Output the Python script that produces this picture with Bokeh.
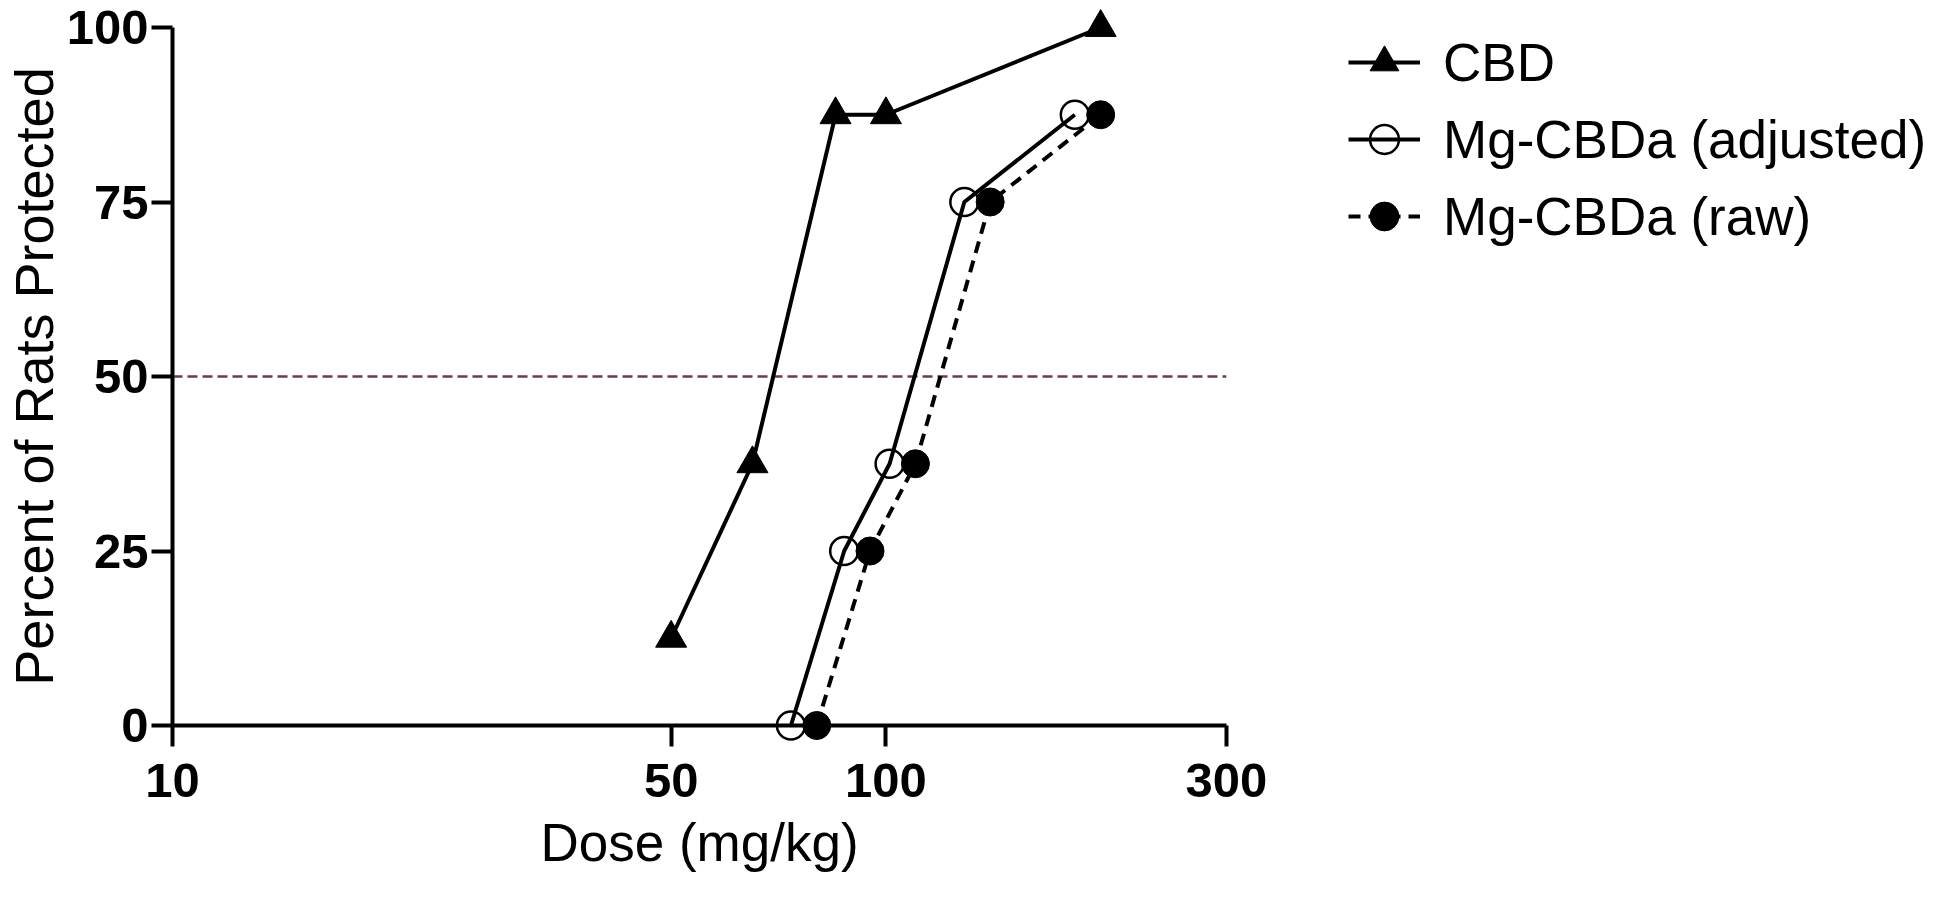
from bokeh.plotting import figure
from bokeh.models import FixedTicker, PrintfTickFormatter, Legend, LegendItem, Title
from bokeh.embed import file_html
from bokeh.resources import INLINE

# ---- data ----
cbd_dose = [50, 65, 85, 100, 200]
cbd_pct = [12.5, 37.5, 87.5, 87.5, 100]

adj_dose = [73.6, 87.4, 101.2, 128.8, 184]
adj_pct = [0, 25, 37.5, 75, 87.5]

raw_dose = [80, 95, 110, 140, 200]
raw_pct = [0, 25, 37.5, 75, 87.5]

x_ticks = [10, 50, 100, 300]
y_ticks = [0, 25, 50, 75, 100]
ref_level = 50

FONT = "Liberation Sans"

# x range extends past 300 so the legend can sit inside the frame;
# the axis itself is bounded to 10..300
p = figure(
    width=1934, height=884,
    x_axis_type="log", x_range=(10, 2950), y_range=(0, 100),
    output_backend="svg", toolbar_location=None,
    min_border_left=168, min_border_top=27, min_border_right=0, min_border_bottom=159,
    background_fill_color="white", border_fill_color="white",
)
p.outline_line_color = None
p.xgrid.visible = False
p.ygrid.visible = False

for ax in (p.xaxis[0], p.yaxis[0]):
    ax.axis_line_width = 4
    ax.axis_line_color = "black"
    ax.major_tick_line_width = 4
    ax.major_tick_line_color = "black"
    ax.major_tick_in = 0
    ax.major_tick_out = 21
    ax.minor_tick_line_color = None
    ax.major_label_text_font = FONT
    ax.major_label_text_font_style = "bold"
    ax.major_label_text_font_size = "49px"
    ax.major_label_text_color = "black"
    ax.axis_label_text_font = FONT
    ax.axis_label_text_font_style = "normal"
    ax.axis_label_text_color = "black"

p.xaxis.ticker = FixedTicker(ticks=x_ticks)
p.xaxis.bounds = (x_ticks[0], x_ticks[-1])
p.xaxis.formatter = PrintfTickFormatter(format="%d")
p.xaxis.major_label_standoff = 17

# x axis title, placed under the bounded part of the axis
p.add_layout(Title(text="Dose (mg/kg)", align="left", offset=368, standoff=22,
                   text_font=FONT, text_font_size="53px", text_font_style="normal",
                   text_color="black"), "below")

p.yaxis.ticker = FixedTicker(ticks=y_ticks)
p.yaxis.axis_label = "Percent of Rats Protected"
p.yaxis.axis_label_text_font_size = "54px"
p.yaxis.axis_label_standoff = 0
p.yaxis.major_label_standoff = 3

# reference line at 50 %, from the first to the last x tick
p.segment(x0=[x_ticks[0]], y0=[ref_level], x1=[x_ticks[-1]], y1=[ref_level],
          line_color="#6f3c42", line_width=2.5, line_dash="10 5")

LW = 4
# CBD
cbd_line = p.line(cbd_dose, cbd_pct, line_color="black", line_width=LW, level="overlay")
cbd_pts = p.scatter(cbd_dose, cbd_pct, marker="triangle", size=31, fill_color="black",
                    line_color="black", line_width=1, level="overlay")
# Mg-CBDa adjusted
adj_line = p.line(adj_dose, adj_pct, line_color="black", line_width=LW, level="overlay")
adj_pts = p.scatter(adj_dose, adj_pct, marker="circle", size=28, fill_color=None,
                    line_color="black", line_width=2.5, level="overlay")
# Mg-CBDa raw
raw_line = p.line(raw_dose, raw_pct, line_color="black", line_width=LW, line_dash="12 8",
                  level="overlay")
raw_pts = p.scatter(raw_dose, raw_pct, marker="circle", size=28, fill_color="black",
                    line_color="black", line_width=1, level="overlay")

legend = Legend(
    items=[
        LegendItem(label="CBD", renderers=[cbd_line, cbd_pts]),
        LegendItem(label="Mg-CBDa (adjusted)", renderers=[adj_line, adj_pts]),
        LegendItem(label="Mg-CBDa (raw)", renderers=[raw_line, raw_pts]),
    ],
    location=(1176, 473),
    orientation="vertical",
    glyph_width=72, glyph_height=72, label_standoff=23,
    label_text_font=FONT, label_text_font_size="53px", label_text_color="black",
    spacing=5, padding=0, margin=0,
    border_line_color=None, background_fill_alpha=0,
)
p.add_layout(legend)

open("out.html", "w").write(file_html(p, INLINE))
